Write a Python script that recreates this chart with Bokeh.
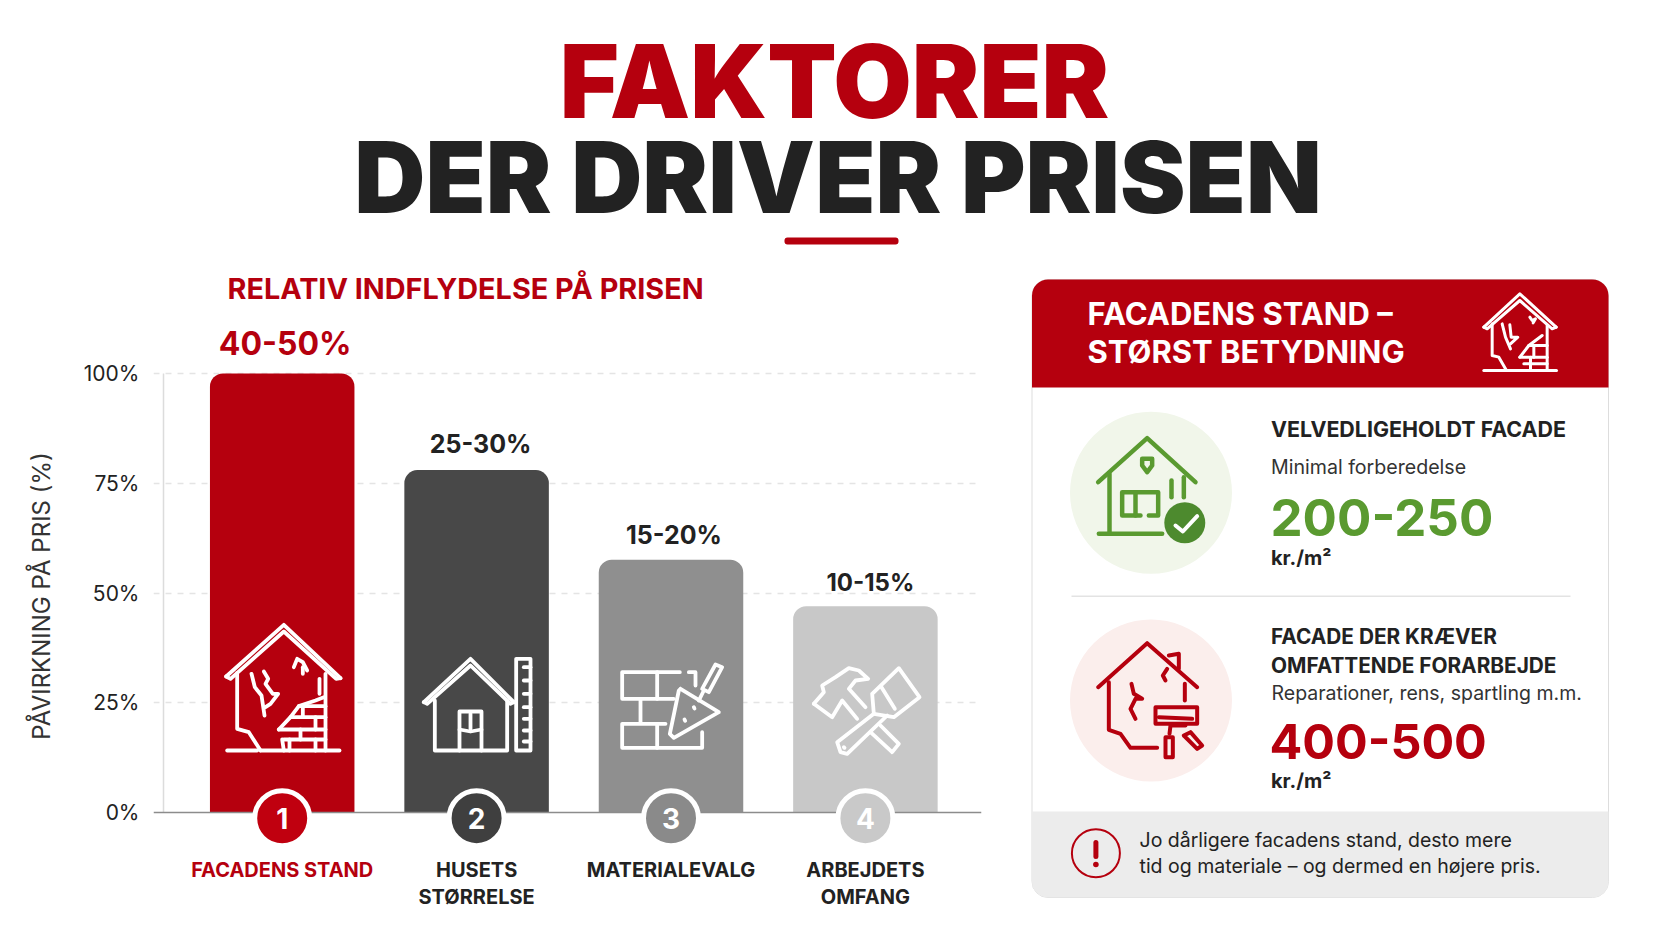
from bokeh.core.properties import value
from bokeh.embed import file_html
from bokeh.layouts import column, row
from bokeh.models import ColumnDataSource, FixedTicker, Range1d
from bokeh.plotting import figure
from bokeh.resources import INLINE

# Chart data
categories = ["FACADENS STAND", "HUSETS STØRRELSE", "MATERIALEVALG", "ARBEJDETS OMFANG"]
cat_line1 = ["FACADENS STAND", "HUSETS", "MATERIALEVALG", "ARBEJDETS"]
cat_line2 = ["", "STØRRELSE", "", "OMFANG"]
influence = [100, 78, 57.6, 47]
range_labels = ["40-50%", "25-30%", "15-20%", "10-15%"]
badges = ["1", "2", "3", "4"]
y_ticks = [0, 25, 50, 75, 100]

RED = "#b5000e"
DARK = "#222222"
GREEN = "#5a9a30"
bar_colors = [RED, "#484848", "#8f8f8f", "#c8c8c8"]
badge_colors = ["#c0000f", "#3f3f3f", "#8a8a8a", "#c9c9c9"]
label_colors = [RED, DARK, DARK, DARK]
value_colors = [RED, DARK, DARK, DARK]
value_sizes = [32, 25, 25, 24]
value_gaps = [18, 17, 16, 15]
value_nudges = [3, 4, 3, 5]

FONT = "Inter"
HEAVY = "Inter Black"

# The page is laid out in the reference's pixels, these map them to the chart's axes
PX_PER_PCT = 4.39
PX_PER_BAR = 194.4
BASE_Y = 812
FIRST_X = 281.7
# alphabetic text comes out this many em too low
BASELINE_SHIFT = 0.36


def to_x(px):
    return 1 + (px - FIRST_X) / PX_PER_BAR


def to_y(py):
    return (BASE_Y - py) / PX_PER_PCT


def label(p, x, y, s, size, color, bold=True, align="left", font=FONT, **kw):
    p.text(x=[x], y=[y], text=[s], text_font=value(font), text_font_size=f"{size}px",
           text_font_style="bold" if bold else "normal", text_color=color,
           text_align=align, text_baseline="alphabetic",
           y_offset=-BASELINE_SHIFT * size, **kw)


def icon(p, paths, ox, oy, color, width=3.8, **kw):
    xs = [[ox + a / 3 for a, b in path] for path in paths]
    ys = [[oy + b / 3 for a, b in path] for path in paths]
    p.multi_line(xs, ys, line_color=color, line_width=width, line_join="round",
                 line_cap="round", **kw)


def box(p, x0, y0, x1, y1, r, fill, line=None, **kw):
    p.quad(left=[x0], right=[x1], top=[y0], bottom=[y1], fill_color=fill,
           line_color=line, border_radius=r, **kw)


def page_figure(w, h, x0, x1, y0, y1):
    p = figure(width=w, height=h, x_range=Range1d(x0, x1), y_range=Range1d(y1, y0),
               output_backend="svg", toolbar_location=None, tools="",
               min_border=0, background_fill_color="white", border_fill_color="white")
    p.outline_line_color = None
    p.axis.visible = False
    p.grid.visible = False
    return p


cracked_house = [
    [(32, 183), (205, 28), (375, 188)],
    [(32, 183), (45, 190), (205, 48), (362, 190), (375, 188)],
    [(65, 172), (65, 340), (100, 350), (135, 405)],
    [(35, 405), (125, 405)],
    [(135, 405), (372, 405)],
    [(330, 175), (330, 405)],
    [(312, 190), (312, 235)],
    [(108, 175), (118, 215), (138, 240), (147, 300)],
    [(145, 168), (158, 190), (150, 205), (172, 235), (188, 235), (165, 265), (150, 275)],
    [(235, 155), (245, 130), (262, 140), (275, 165)],
    [(262, 155), (262, 175)],
    [(205, 372), (330, 372)],
    [(190, 342), (330, 342)],
    [(225, 305), (330, 305)],
    [(250, 272), (330, 272)],
    [(190, 342), (225, 305), (250, 272), (300, 255), (325, 245)],
    [(222, 372), (222, 405)],
    [(300, 372), (300, 405)],
    [(255, 342), (255, 372)],
    [(300, 305), (300, 342)],
    [(262, 272), (262, 305)],
    [(200, 372), (205, 405)],
]
ruler_house = [
    [(25, 170), (165, 40), (295, 170)],
    [(25, 170), (35, 175), (165, 60), (285, 175), (295, 170)],
    [(58, 165), (58, 315), (275, 315), (275, 165)],
    [(132, 315), (132, 198), (198, 198), (198, 315)],
    [(132, 252), (165, 258), (198, 252)],
    [(165, 205), (165, 250)],
    [(302, 40), (345, 40), (345, 315), (302, 315), (302, 40)],
    [(325, 65), (345, 65)],
    [(325, 105), (345, 105)],
    [(325, 145), (345, 145)],
    [(325, 185), (345, 185)],
    [(325, 220), (345, 220)],
    [(325, 255), (345, 255)],
    [(325, 288), (345, 288)],
]
bricks_trowel = [
    [(208, 65), (35, 65), (35, 145), (190, 145)],
    [(140, 65), (140, 145)],
    [(90, 145), (90, 215)],
    [(165, 220), (35, 220), (35, 292), (275, 292), (275, 245)],
    [(140, 220), (140, 292)],
    [(235, 65), (255, 65), (255, 105)],
    [(210, 115), (325, 185), (190, 262), (178, 250), (205, 120), (210, 115)],
    [(275, 115), (315, 42), (335, 50), (295, 125), (275, 115)],
    [(265, 150), (280, 120)],
    [(250, 170), (252, 174)],
    [(222, 207), (224, 211)],
]
hammer_brush = [
    [(25, 145), (55, 110), (50, 90), (90, 65), (130, 38), (160, 45), (188, 70), (150, 75),
     (130, 100), (180, 155)],
    [(155, 190), (110, 135), (80, 185), (25, 145)],
    [(225, 210), (280, 265), (260, 290), (195, 230)],
    [(200, 115), (280, 38), (342, 125), (265, 185), (205, 175), (200, 115)],
    [(205, 175), (95, 260), (105, 290), (125, 295), (245, 180)],
    [(228, 95), (268, 160)],
    [(115, 275), (117, 277)],
]
green_house = [
    [(38, 170), (185, 38), (330, 170)],
    [(72, 145), (72, 325)],
    [(40, 325), (230, 325)],
    [(295, 155), (295, 215)],
    [(190, 270), (218, 270), (218, 200), (110, 200), (110, 270), (165, 270)],
    [(150, 200), (150, 270)],
    [(170, 100), (200, 100), (200, 120), (185, 140), (170, 120), (170, 100)],
    [(258, 165), (258, 215)],
]
red_house = [
    [(38, 170), (185, 38), (335, 170)],
    [(70, 155), (70, 298), (105, 310), (135, 352), (215, 352)],
    [(298, 160), (298, 210)],
    [(250, 75), (280, 70), (280, 115)],
    [(245, 115), (232, 135), (240, 150)],
    [(138, 160), (145, 190), (170, 205), (150, 205), (135, 235), (150, 265)],
    [(210, 230), (335, 230), (335, 280), (210, 280), (210, 230)],
    [(220, 260), (320, 265)],
    [(300, 285), (255, 285), (252, 310)],
    [(240, 320), (262, 320), (262, 380), (240, 380), (240, 320)],
    [(295, 315), (315, 305), (350, 345), (335, 355), (295, 315)],
]
header_house = [
    [(40, 125), (148, 25), (257, 125)],
    [(40, 125), (50, 130), (148, 45), (245, 130), (257, 125)],
    [(65, 115), (65, 210), (85, 215), (108, 255)],
    [(40, 255), (258, 255)],
    [(230, 120), (230, 255)],
    [(95, 115), (105, 155), (120, 190)],
    [(118, 118), (122, 155), (142, 155), (120, 175)],
    [(178, 95), (185, 105), (195, 100), (188, 112)],
    [(148, 215), (230, 215)],
    [(175, 180), (230, 180)],
    [(160, 235), (230, 235)],
    [(148, 215), (175, 180), (215, 150)],
    [(190, 180), (190, 215)],
    [(180, 215), (180, 255)],
]

# Title block
head = page_figure(1664, 258, 0, 1664, 0, 258)
label(head, 834, 117, "FAKTORER", 101.3, RED, align="center", font=HEAVY)
label(head, 837.5, 212, "DER DRIVER PRISEN", 98.5, DARK, align="center", font=HEAVY)
box(head, 784, 237, 898, 244, 3, RED)

# Bar chart
source = ColumnDataSource(dict(
    category=categories, pos=list(range(1, len(categories) + 1)), influence=influence,
    range_label=range_labels, badge=badges, bar_color=bar_colors, badge_color=badge_colors,
    label_color=label_colors, value_color=value_colors,
    value_size=[f"{s}px" for s in value_sizes],
    value_offset=[-g - BASELINE_SHIFT * s for g, s in zip(value_gaps, value_sizes)],
    value_nudge=value_nudges, line1=cat_line1, line2=cat_line2,
))

p = figure(width=1020, height=675,
           x_range=Range1d(to_x(153), to_x(981)), y_range=Range1d(to_y(933), to_y(258)),
           output_backend="svg", toolbar_location=None, tools="",
           min_border_left=153, min_border_right=39, min_border_top=0, min_border_bottom=0,
           background_fill_color="white", border_fill_color="white")
p.extra_x_ranges["px"] = Range1d(153, 981)
p.extra_y_ranges["px"] = Range1d(933, 258)
p.outline_line_color = None

p.xgrid.visible = False
p.ygrid.ticker = FixedTicker(ticks=[25, 50, 75, 100])
p.ygrid.grid_line_color = "#e4e4e4"
p.ygrid.grid_line_width = 1.5
p.ygrid.grid_line_dash = "6 6"

p.xaxis.ticker = FixedTicker(ticks=[])
p.xaxis.fixed_location = 0
p.xaxis.axis_line_color = "#8c8c8c"
p.xaxis.axis_line_width = 1.5

p.yaxis.ticker = FixedTicker(ticks=y_ticks)
p.yaxis.axis_line_color = None
p.yaxis.major_tick_line_color = None
p.yaxis.minor_tick_line_color = None
p.yaxis.major_label_overrides = {t: f"{t}%" for t in y_ticks}
p.yaxis.major_label_standoff = 8
p.yaxis.major_label_text_font = FONT
p.yaxis.major_label_text_font_size = "21px"
p.yaxis.major_label_text_color = DARK
p.yaxis.axis_label = "PÅVIRKNING PÅ PRIS (%)"
p.yaxis.axis_label_text_font = FONT
p.yaxis.axis_label_text_font_size = "24px"
p.yaxis.axis_label_text_font_style = "normal"
p.yaxis.axis_label_text_color = "#333333"
p.yaxis.axis_label_standoff = 25

# The light vertical rule sits a little inside the frame
p.segment(x0=[163], y0=[to_y(812)], x1=[163], y1=[to_y(373)], line_color="#dcdcdc", line_width=1.5,
          x_range_name="px")

p.vbar(x="pos", top="influence", bottom=0, width=144.5 / PX_PER_BAR, source=source,
       fill_color="bar_color", line_color=None, border_radius=(13, 13, 0, 0))

p.text(x="pos", y="influence", text="range_label", source=source, text_align="center",
       text_baseline="alphabetic", x_offset="value_nudge", y_offset="value_offset",
       text_color="value_color", text_font=value(FONT), text_font_style="bold",
       text_font_size="value_size")

px = dict(x_range_name="px", y_range_name="px")
icon(p, cracked_house, 215, 615, "white", **px)
icon(p, ruler_house, 415, 645, "white", **px)
icon(p, bricks_trowel, 610, 650, "white", **px)
icon(p, hammer_brush, 805, 655, "white", **px)

p.scatter(x="pos", y=to_y(817.7), source=source, size=55, fill_color="badge_color",
          line_color="white", line_width=5, level="annotation")
p.text(x="pos", y=to_y(817.7), text="badge", source=source, text_align="center",
       text_baseline="middle", text_color="white", text_font=value(FONT),
       text_font_style="bold", text_font_size="28px", level="annotation")

p.text(x="pos", y=to_y(877), text="line1", source=source, text_align="center",
       text_baseline="alphabetic", y_offset=-BASELINE_SHIFT * 20, text_color="label_color",
       text_font=value(FONT), text_font_style="bold", text_font_size="20px")
p.text(x="pos", y=to_y(904), text="line2", source=source, text_align="center",
       text_baseline="alphabetic", y_offset=-BASELINE_SHIFT * 20, text_color="label_color",
       text_font=value(FONT), text_font_style="bold", text_font_size="20px")

label(p, 227, 298, "RELATIV INDFLYDELSE PÅ PRISEN", 28.8, RED, **px)

# Card on the right
card = page_figure(644, 675, 1020, 1664, 258, 933)
box(card, 1031.5, 279, 1608, 897, 16, "white", line="#dddddd")
box(card, 1031.5, 279, 1608, 387, (16, 16, 0, 0), RED)
box(card, 1031.5, 811, 1608, 897, (0, 0, 16, 16), "#ececec")
card.segment(x0=[1071], y0=[595.7], x1=[1570], y1=[595.7], line_color="#e3e3e3", line_width=1.5)

label(card, 1087, 324.3, "FACADENS STAND –", 31, "white")
label(card, 1087, 362, "STØRST BETYDNING", 31, "white")
icon(card, header_house, 1470, 285, "white", width=3)

card.circle(x=[1150.5], y=[492.3], radius=81, fill_color="#f1f6ea", line_color=None)
icon(card, green_house, 1085, 425, GREEN, width=4.5)
card.circle(x=[1184.3], y=[522.3], radius=20.5, fill_color="#4d8a2e", line_color=None)
icon(card, [[(270, 300), (292, 318), (335, 272)]], 1085, 425, "white", width=4)

label(card, 1270.5, 436, "VELVEDLIGEHOLDT FACADE", 21.4, DARK)
label(card, 1270.5, 474, "Minimal forberedelse", 19.6, "#333333", bold=False)
label(card, 1270, 535, "200-250", 51, GREEN)
label(card, 1270.5, 565, "kr./m²", 20, DARK)

card.circle(x=[1150.5], y=[700], radius=81, fill_color="#fbeeec", line_color=None)
icon(card, red_house, 1085, 630, RED, width=4)

label(card, 1270.5, 643, "FACADE DER KRÆVER", 20.8, DARK)
label(card, 1270.5, 672, "OMFATTENDE FORARBEJDE", 20.8, DARK)
label(card, 1271, 700, "Reparationer, rens, spartling m.m.", 19.5, "#333333", bold=False)
label(card, 1269, 758, "400-500", 48.5, RED)
label(card, 1270.5, 788, "kr./m²", 20, DARK)

card.circle(x=[1095.4], y=[852.7], radius=24, fill_color=None, line_color=RED, line_width=2)
card.segment(x0=[1095.4], y0=[842], x1=[1095.4], y1=[856], line_color=RED, line_width=5,
             line_cap="round")
card.circle(x=[1095.4], y=[864], radius=2.8, fill_color=RED, line_color=None)
label(card, 1139, 847, "Jo dårligere facadens stand, desto mere", 19.5, DARK, bold=False)
label(card, 1139, 873, "tid og materiale – og dermed en højere pris.", 19.5, DARK, bold=False)

page = column(head, row(p, card))
open("out.html", "w").write(file_html(page, INLINE))
